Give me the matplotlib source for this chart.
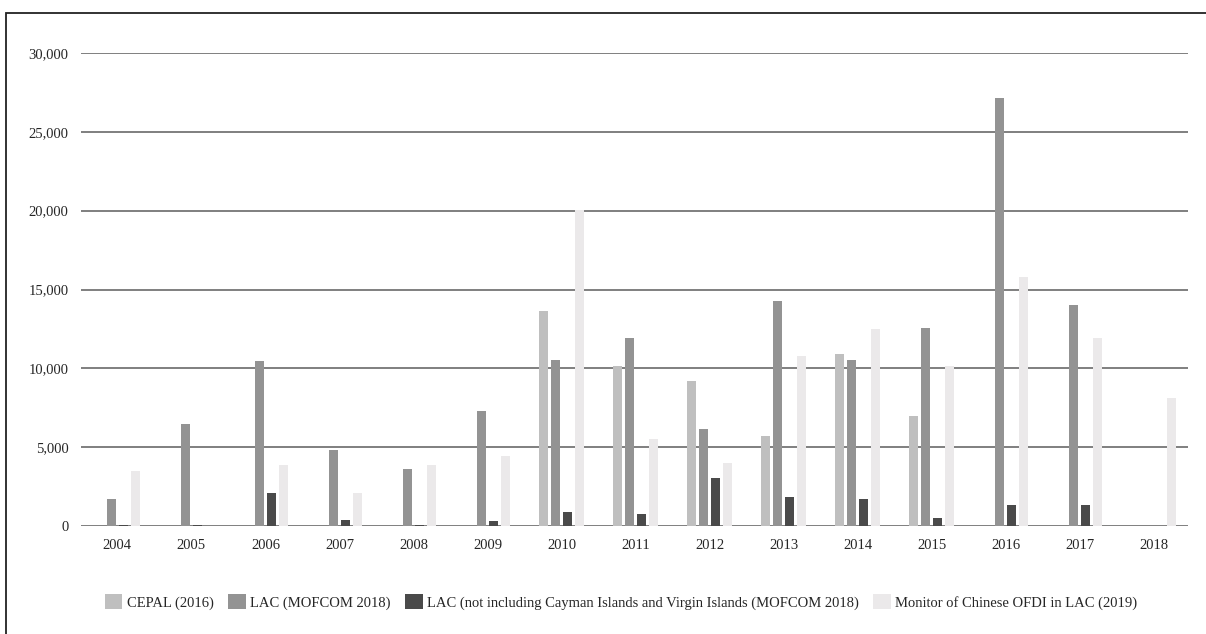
import numpy as np
import matplotlib.pyplot as plt
from matplotlib.patches import Rectangle

years = ['2004', '2005', '2006', '2007', '2008', '2009', '2010', '2011',
         '2012', '2013', '2014', '2015', '2016', '2017', '2018']

cepal = [0, 0, 0, 0, 0, 0, 13650, 10150, 9200, 5700, 10900, 6950, 0, 0, 0]
lac = [1720, 6460, 10440, 4840, 3620, 7300, 10500, 11930, 6170, 14300,
       10520, 12590, 27170, 14030, 0]
lac_no_cayman = [40, 60, 2110, 400, 40, 300, 870, 760, 3040, 1820,
                 1710, 490, 1330, 1330, 0]
monitor = [3500, 30, 3850, 2110, 3900, 4460, 20070, 5490, 3970, 10800,
           12500, 10140, 15820, 11930, 8150]

series = [
    ('CEPAL (2016)', cepal, '#bfbfbf'),
    ('LAC (MOFCOM 2018)', lac, '#939393'),
    ('LAC (not including Cayman Islands and Virgin Islands (MOFCOM 2018)', lac_no_cayman, '#4a4a4a'),
    ('Monitor of Chinese OFDI in LAC (2019)', monitor, '#ebe9ea'),
]

plt.rcParams['font.family'] = ['Liberation Serif', 'DejaVu Serif']

fig = plt.figure(figsize=(12.06, 6.34), dpi=100)
ax = fig.add_axes([0.0672, 0.1703, 0.9178, 0.7461])

x = np.arange(len(years))
width = 0.122
step = 0.162
for i, (name, vals, col) in enumerate(series):
    ax.bar(x + (i - 1.5) * step, vals, width, color=col, label=name, zorder=3)

ax.set_xlim(-0.49, 14.46)
ax.set_ylim(0, 30000)
ax.set_yticks(range(0, 30001, 5000))
ax.set_yticklabels(['{:,}'.format(v) for v in range(0, 30001, 5000)])
ax.set_xticks(x)
ax.set_xticklabels(years)
ax.tick_params(axis='both', length=0, labelsize=10.5, colors='#262626')
ax.tick_params(axis='y', pad=9)
ax.tick_params(axis='x', pad=9)
ax.yaxis.grid(True, color='#7f7f7f', linewidth=1.4, zorder=0)
for s in ax.spines.values():
    s.set_visible(False)

# outer frame (only top and left edges visible in the picture)
fig.patches.append(Rectangle((6 / 1206, -0.2), 1.5, 1 - 13 / 634 + 0.2,
                             transform=fig.transFigure, fill=False,
                             edgecolor='#222222', linewidth=1.3))

fig.legend(loc='center', bbox_to_anchor=(0.515, 1 - 602 / 634), ncol=4,
           frameon=False, fontsize=10.5, handlelength=1.2, handleheight=1.2,
           handletextpad=0.3, columnspacing=1.0, labelcolor='#262626')

fig.savefig('out.png', dpi=100)
